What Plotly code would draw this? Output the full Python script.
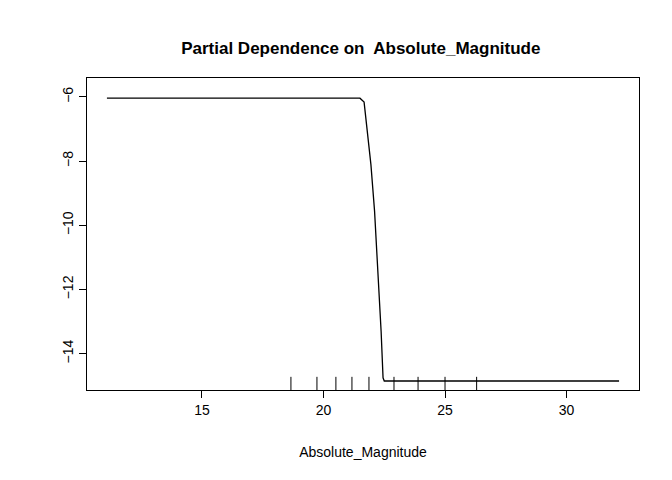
import plotly.graph_objects as go

# partial dependence curve
pd_x = [11.09, 21.5, 21.67, 21.83, 21.95, 22.1, 22.24, 22.37, 22.45, 22.5, 32.16]
pd_y = [-6.04, -6.04, -6.16, -7.2, -8.1, -9.55, -11.4, -13.3, -14.75, -14.85, -14.85]
# rug (deciles of the predictor)
rug_x = [18.66, 19.73, 20.51, 21.17, 21.87, 22.9, 23.89, 25.0, 26.3]

fig = go.Figure()
fig.add_trace(go.Scatter(x=pd_x, y=pd_y, mode="lines",
                         line=dict(color="black", width=1.3), showlegend=False))
fig.add_trace(go.Scatter(x=rug_x, y=[-14.96] * len(rug_x), mode="markers",
                         marker=dict(symbol="line-ns", size=11,
                                     line=dict(color="black", width=1)),
                         showlegend=False))

axis_common = dict(showline=True, linecolor="black", linewidth=1, mirror=True,
                   ticks="outside", ticklen=7, tickcolor="black",
                   showgrid=False, zeroline=False, automargin=False,
                   tickfont=dict(size=14, color="black"))
fig.update_xaxes(range=[10.27, 32.98], tickvals=[15, 20, 25, 30],
                 title=dict(text="Absolute_Magnitude", font=dict(size=14, color="black"),
                            standoff=30),
                 **axis_common)
fig.update_yaxes(range=[-15.13, -5.41], tickvals=[-14, -12, -10, -8, -6],
                 tickangle=-90, **axis_common)

fig.update_layout(
    width=672, height=480,
    margin=dict(l=79, r=41, t=70, b=98),
    paper_bgcolor="white", plot_bgcolor="white",
    font=dict(family="Liberation Sans, Arial, sans-serif", color="black"),
    title=dict(text="<b>Partial Dependence on  Absolute_Magnitude</b>",
               x=0.525, xanchor="center", y=0.917, yanchor="middle",
               font=dict(size=17, color="black")),
)

fig.write_html("out.html")
